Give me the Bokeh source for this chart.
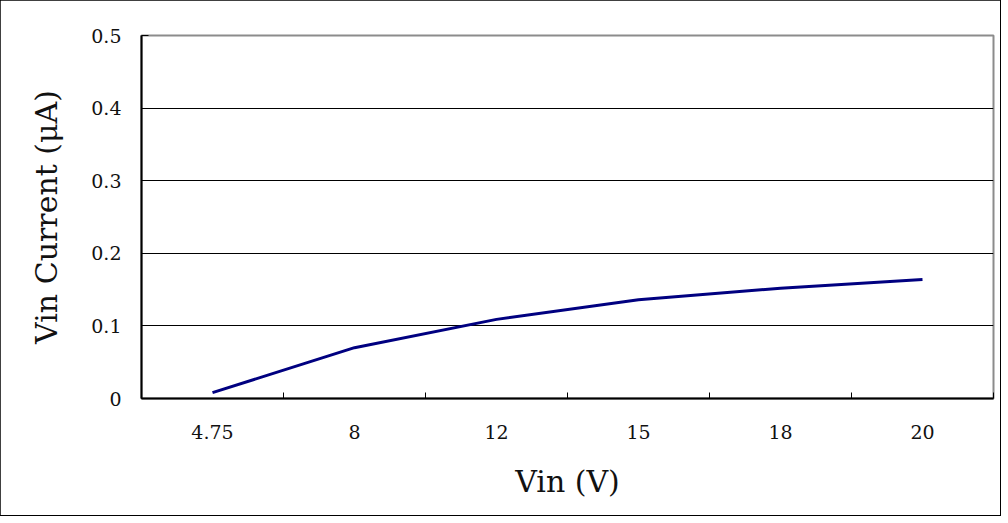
from bokeh.plotting import figure
from bokeh.models import FixedTicker, Range1d
from bokeh.embed import file_html
from bokeh.resources import INLINE

vin_labels = ["4.75", "8", "12", "15", "18", "20"]
current_ua = [0.008, 0.070, 0.109, 0.136, 0.152, 0.164]
y_ticks = [0, 0.1, 0.2, 0.3, 0.4, 0.5]
y_tick_labels = ["0", "0.1", "0.2", "0.3", "0.4", "0.5"]

FONT = "DejaVu Serif"

n = len(vin_labels)
xs = [i + 0.5 for i in range(n)]

p = figure(width=1000, height=515, output_backend="svg", toolbar_location=None,
           x_range=Range1d(0, n), y_range=Range1d(0, 0.5),
           min_border_left=141, min_border_top=35, min_border_right=7, min_border_bottom=117,
           frame_width=852, frame_height=363)
p.styles = {"outline": "2px solid black", "outline-offset": "-1px"}
p.background_fill_color = "white"
p.border_fill_color = "white"
p.outline_line_color = "#8c8c8c"
p.outline_line_width = 2

p.line(xs, current_ua, line_color="#000080", line_width=3)

# x axis
xa = p.xaxis[0]
xa.ticker = FixedTicker(ticks=xs, minor_ticks=list(range(n + 1)))
xa.major_label_overrides = {x: lab for x, lab in zip(xs, vin_labels)}
xa.major_tick_line_color = None
xa.minor_tick_in = 6
xa.minor_tick_out = 0
xa.minor_tick_line_color = "black"
xa.minor_tick_line_width = 1
xa.axis_line_color = "black"
xa.axis_line_width = 2
xa.major_label_standoff = 20
xa.major_label_text_font = FONT
xa.major_label_text_font_size = "19px"
xa.major_label_text_color = "#111111"
xa.axis_label = "Vin (V)"
xa.axis_label_text_font = FONT
xa.axis_label_text_font_size = "30px"
xa.axis_label_text_font_style = "normal"
xa.axis_label_text_color = "#111111"
xa.axis_label_standoff = 22

# y axis
ya = p.yaxis[0]
ya.ticker = FixedTicker(ticks=y_ticks, minor_ticks=[])
ya.major_label_overrides = {t: lab for t, lab in zip(y_ticks, y_tick_labels)}
ya.major_tick_in = 7
ya.major_tick_out = 0
ya.major_tick_line_color = "black"
ya.axis_line_color = "black"
ya.axis_line_width = 2
ya.major_label_standoff = 20
ya.major_label_text_font = FONT
ya.major_label_text_font_size = "19px"
ya.major_label_text_color = "#111111"
ya.axis_label = "Vin Current (μA)"
ya.axis_label_text_font = FONT
ya.axis_label_text_font_size = "30px"
ya.axis_label_text_font_style = "normal"
ya.axis_label_text_color = "#111111"
ya.axis_label_standoff = 24

p.xgrid.grid_line_color = None
p.ygrid.grid_line_color = "black"
p.ygrid.grid_line_width = 1

open("out.html", "w").write(file_html(p, INLINE))
